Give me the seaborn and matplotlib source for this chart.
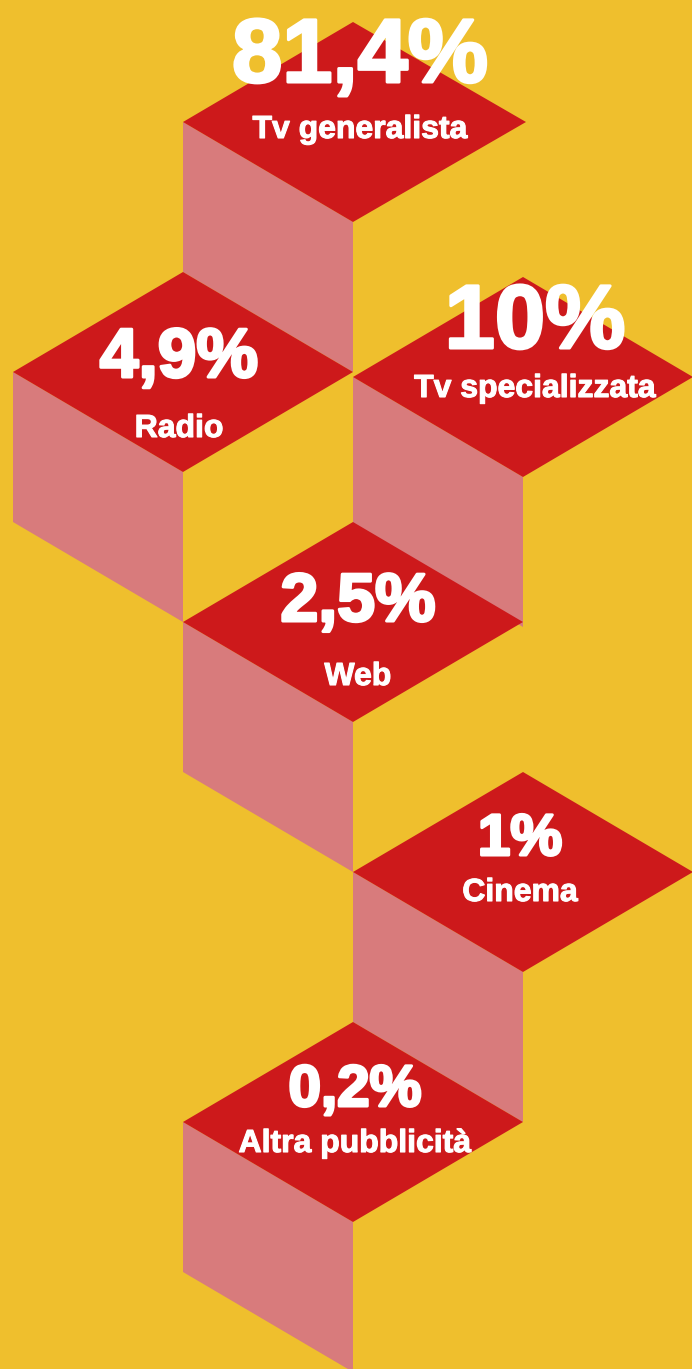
import matplotlib
matplotlib.use("Agg")
import matplotlib.pyplot as plt
import matplotlib.patheffects as pe
import seaborn as sns

sns.set_theme(style="white")
plt.rcParams['font.family'] = ['Liberation Sans', 'DejaVu Sans']

# quote per mezzo (%)
labels = ["Tv generalista", "Radio", "Tv specializzata", "Web", "Cinema",
          "Altra pubblicità"]
values = [81.4, 4.9, 10, 2.5, 1, 0.2]

# layout dei cubi (griglia isometrica)
grid_col = [1, 0, 2, 1, 2, 1]
grid_row = [0, 1, 1.02, 2, 3, 4]
num_size = [65, 50, 65, 49, 42, 42]
num_dy = [-40, 5, -29, -1, -17, -16]
lab_dy = [16, 65, 20, 63, 29, 30]
txt_dx = [7, -4, 12, 5, -3, 2]

BG = "#EFBF2D"
RED = "#CD191B"
PINK = "#D87B7C"
W, H = 692, 1369
HW, HH, DEPTH = 170, 100, 150


def fmt_val(v):
    return "{:g}".format(v).replace(".", ",") + "%"


fig = plt.figure(figsize=(W / 100, H / 100), dpi=100, facecolor=BG)
ax = fig.add_axes([0, 0, 1, 1])
ax.set_facecolor(BG)

for i, (lab, v) in enumerate(zip(labels, values)):
    cx = 183 + grid_col[i] * HW
    cy = 122 + grid_row[i] * 250
    hw = HW + 3 if i == 0 else HW
    # faccia laterale
    ax.fill([cx - HW, cx, cx, cx - HW],
            [cy, cy + HH, cy + HH + DEPTH, cy + DEPTH],
            color=PINK, lw=0, zorder=2 * i)
    # faccia superiore
    ax.fill([cx - HW, cx, cx + hw, cx],
            [cy, cy - HH, cy, cy + HH],
            color=RED, lw=0, zorder=2 * i + 1)
    ax.text(cx + txt_dx[i], cy + num_dy[i], fmt_val(v), color="white",
            fontsize=num_size[i], fontweight="bold", ha="center",
            va="baseline", zorder=50,
            path_effects=[pe.withStroke(linewidth=2.2, foreground="white")])
    ax.text(cx + txt_dx[i], cy + lab_dy[i], lab, color="white",
            fontsize=23, fontweight="bold", ha="center", va="baseline",
            zorder=50,
            path_effects=[pe.withStroke(linewidth=0.8, foreground="white")])

ax.set_xlim(0, W)
ax.set_ylim(H, 0)
ax.axis("off")
plt.savefig("out.png", dpi=100, facecolor=BG)
